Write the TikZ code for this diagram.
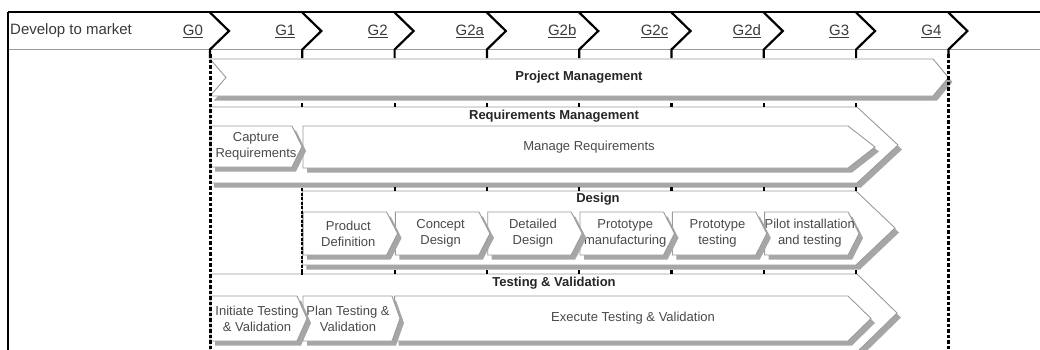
\documentclass[tikz,border=0pt]{standalone}
\usepackage{fontspec}
\setmainfont{Liberation Sans}
\definecolor{boxgray}{HTML}{9A9A9A}
\definecolor{shadowgray}{HTML}{A6A6A6}
\definecolor{txtdark}{HTML}{3A3A3A}
\definecolor{txtmid}{HTML}{4A4A4A}
\definecolor{headgray}{HTML}{9C9C9C}

% arrow box: #1 left x, #2 corner x, #3 tip x, #4 top y, #5 bottom y
\newcommand\arrowbox[5]{%
  \fill[shade, shift={(4,4.5)}] (#1,#4) -- (#2,#4) -- (#3,{(#4+#5)/2}) -- (#2,#5) -- (#1,#5) -- cycle;
  \draw[box] (#1,#4) -- (#2,#4) -- (#3,{(#4+#5)/2}) -- (#2,#5) -- (#1,#5) -- cycle;
}

\begin{document}
\begin{tikzpicture}[x=1pt,y=-1pt,
  box/.style={draw=boxgray, line width=0.9pt, fill=white, line join=miter},
  shade/.style={fill=shadowgray},
  gatechev/.style={line width=2.2pt, line join=miter},
  gatelbl/.style={font=\fontsize{15}{18}\selectfont, text=txtdark, inner sep=0pt},
  lanehead/.style={font=\bfseries\fontsize{13}{15}\selectfont, text=black!85, inner sep=0pt},
  steptext/.style={font=\fontsize{13}{16}\selectfont, text=txtmid, align=center, inner sep=0pt},
  tickmark/.style={line width=2.2pt},
  gatedash/.style={line width=3pt, dash pattern=on 3.5pt off 2pt},
  lanedash/.style={line width=2pt, dash pattern=on 3pt off 1.5pt}]

\useasboundingbox (0,0) rectangle (1040,349);
\clip (0,0) rectangle (1040,349);
\fill[white] (0,0) rectangle (1040,349);

% ---- lane containers ----
% Project Management (notched left end)
\fill[shade, shift={(4,4.5)}] (210,59) -- (933,59) -- (948.4,77.5) -- (933,96) -- (210,96) -- (226,77.5) -- cycle;
\draw[box] (210,59) -- (933,59) -- (948.4,77.5) -- (933,96) -- (210,96) -- (226,77.5) -- cycle;
\node[lanehead] (pm) at (579,77.5) {Project Management};

% Requirements Management
\arrowbox{210}{857}{898}{107}{183}
\node[lanehead] (rm) at (554,116) {Requirements Management};
\arrowbox{303}{848}{875}{126}{168}
\node[steptext] (manage) at (589,147) {Manage Requirements};
\arrowbox{211}{292}{302}{126}{167}
\node[steptext] (capture) at (256,146.5) {Capture\\Requirements};

% Design
\arrowbox{302.3}{856}{895}{191}{265}
\node[lanehead] (design) at (598,199.5) {Design};
\foreach \i/\txt [evaluate=\i as \gl using 210+92.3*\i,
                  evaluate=\i as \gr using 210+92.3*(\i+1)] in
  {6/{Pilot installation\\and testing},
   5/{Prototype\\testing},
   4/{Prototype\\manufacturing},
   3/{Detailed\\Design},
   2/{Concept\\Design},
   1/{Product\\Definition}} {
  \arrowbox{\gl+0.8}{\gr-8}{\gr+3}{212}{255}
  \node[steptext] (d\i) at ({\gl+46}, 233.5) {\txt};
}

% Testing & Validation
\arrowbox{210}{857}{897}{274}{352}
\node[lanehead] (tv) at (554,283) {Testing \& Validation};
\arrowbox{394.6}{848}{871}{296}{341}
\node[steptext] (execute) at (633,318.5) {Execute Testing \& Validation};
\arrowbox{303}{392}{400}{296}{341}
\node[steptext] (plan) at (348,318.5) {Plan Testing \&\\Validation};
\arrowbox{211}{297}{307}{296}{341}
\node[steptext] (initiate) at (257,318.5) {Initiate Testing\\\& Validation};

% ---- gate ticks on lane tops ----
\foreach \i in {1,...,7} {
  \pgfmathsetmacro\g{210+92.3*\i}
  \draw[tickmark] (\g,103) -- (\g,107);
  \draw[tickmark] (\g,270) -- (\g,274);
}
\foreach \i in {2,...,7} {
  \pgfmathsetmacro\g{210+92.3*\i}
  \draw[tickmark] (\g,187) -- (\g,191);
}

% ---- gate boundaries ----
\draw[gatedash] (210,54) -- (210,352);
\draw[gatedash] (948.4,54) -- (948.4,352);
\draw[lanedash] (302.3,188) -- (302.3,275);

% ---- header row ----
\draw[headgray, line width=1pt] (8,49.5) -- (1040,49.5);
\draw[line width=1.4pt] (8,12) -- (1040,12);
\draw[line width=1.2pt] (8,12) -- (8,352);
\node[gatelbl, anchor=west] (title) at (10,31) {Develop to market};
\foreach \i/\lbl in {0/G0,1/G1,2/G2,3/G2a,4/G2b,5/G2c,6/G2d,7/G3,8/G4} {
  \pgfmathsetmacro\g{210+92.3*\i}
  \draw[gatechev] (\g,12.5) -- (\g+19,31) -- (\g,49.5) -- (\g,58);
  \node[gatelbl] (gate\i) at (\g-17,31) {\underline{\lbl}};
}
\end{tikzpicture}
\end{document}
